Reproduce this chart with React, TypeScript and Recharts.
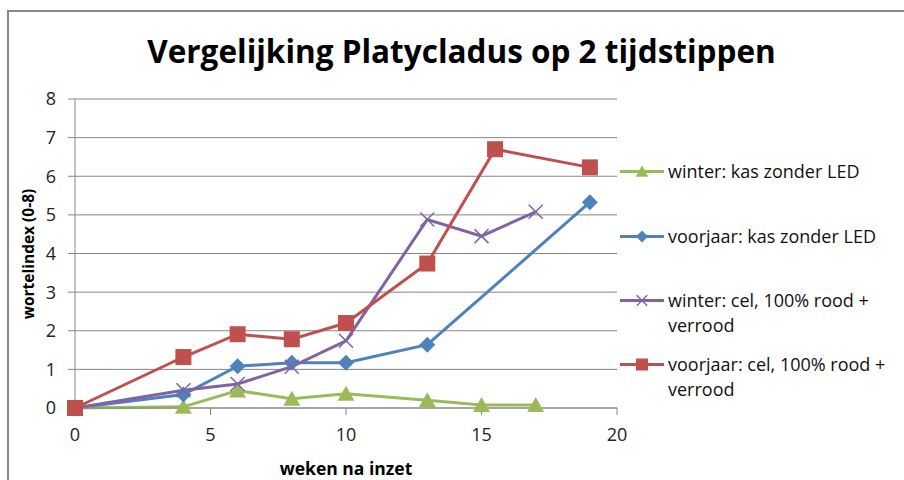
import React from 'react';
import { LineChart, Line, XAxis, YAxis, CartesianGrid } from 'recharts';

const title = 'Vergelijking Platycladus op 2 tijdstippen';
const xLabel = 'weken na inzet';
const yLabel = 'wortelindex (0-8)';
const xTicks = [0, 5, 10, 15, 20];
const yTicks = [0, 1, 2, 3, 4, 5, 6, 7, 8];

const winterKasX = [0, 4, 6, 8, 10, 13, 15, 17];
const winterKasY = [0, 0.03, 0.45, 0.24, 0.37, 0.2, 0.08, 0.08];
const voorjaarKasX = [0, 4, 6, 8, 10, 13, 19];
const voorjaarKasY = [0, 0.35, 1.08, 1.17, 1.17, 1.64, 5.33];
const winterCelX = [0, 4, 6, 8, 10, 13, 15, 17];
const winterCelY = [0, 0.46, 0.62, 1.07, 1.74, 4.88, 4.45, 5.08];
const voorjaarCelX = [0, 4, 6, 8, 10, 13, 15.5, 19];
const voorjaarCelY = [0, 1.32, 1.91, 1.78, 2.2, 3.74, 6.7, 6.23];

const toData = (xs: number[], ys: number[]) => xs.map((x, i) => ({ x, y: ys[i] }));

const GREEN = '#9BBB59';
const BLUE = '#4F81BD';
const PURPLE = '#8064A2';
const RED = '#C0504D';

const FONT = '"Open Sans", "Noto Sans", sans-serif';

type Shape = 'triangle' | 'diamond' | 'x' | 'square';

const marker = (shape: Shape, color: string, cx: number, cy: number, s = 1, key?: any) => {
  if (shape === 'triangle') {
    return <polygon key={key} points={`${cx},${cy - 8 * s} ${cx - 8.5 * s},${cy + 7 * s} ${cx + 8.5 * s},${cy + 7 * s}`} fill={color} />;
  }
  if (shape === 'diamond') {
    return <polygon key={key} points={`${cx},${cy - 8 * s} ${cx + 8 * s},${cy} ${cx},${cy + 8 * s} ${cx - 8 * s},${cy}`} fill={color} />;
  }
  if (shape === 'square') {
    return <rect key={key} x={cx - 8 * s} y={cy - 8 * s} width={16 * s} height={16 * s} fill={color} />;
  }
  return (
    <g key={key} stroke={color} strokeWidth={1.5}>
      <line x1={cx - 7 * s} y1={cy - 7 * s} x2={cx + 7 * s} y2={cy + 7 * s} />
      <line x1={cx - 7 * s} y1={cy + 7 * s} x2={cx + 7 * s} y2={cy - 7 * s} />
    </g>
  );
};

const series = [
  { name: 'winter: kas zonder LED', data: toData(winterKasX, winterKasY), color: GREEN, shape: 'triangle' as Shape, top: 159 },
  { name: 'voorjaar: kas zonder LED', data: toData(voorjaarKasX, voorjaarKasY), color: BLUE, shape: 'diamond' as Shape, top: 224 },
  { name: 'winter: cel, 100% rood +\nverrood', data: toData(winterCelX, winterCelY), color: PURPLE, shape: 'x' as Shape, top: 288 },
  { name: 'voorjaar: cel, 100% rood +\nverrood', data: toData(voorjaarCelX, voorjaarCelY), color: RED, shape: 'square' as Shape, top: 352 },
];

export default function App() {
  return (
    <div style={{ position: 'absolute', left: 0, top: 0, width: 904, height: 480, background: '#fff', overflow: 'hidden', fontFamily: FONT }}>
      <div style={{ position: 'absolute', left: 7, top: 10, width: 920, height: 500, borderTop: '2px solid #888', borderLeft: '2px solid #888', boxSizing: 'border-box' }} />
      <div style={{ position: 'absolute', left: 0, width: 904, top: 29, lineHeight: '43px', textAlign: 'center', fontSize: 31.5, fontWeight: 700, color: '#000', paddingLeft: 19, boxSizing: 'border-box', whiteSpace: 'nowrap' }}>
        {title}
      </div>
      <div style={{ position: 'absolute', left: 0, top: 0 }}>
        <LineChart width={904} height={480} margin={{ top: 99, right: 287, left: 0, bottom: 42 }}>
          <CartesianGrid vertical={false} stroke="#868686" strokeWidth={1} />
          <XAxis
            type="number"
            dataKey="x"
            domain={[0, 20]}
            ticks={xTicks}
            allowDuplicatedCategory={false}
            height={30}
            tickSize={7}
            tickMargin={13}
            stroke="#868686"
            tick={{ fill: '#222', fontSize: 18, fontFamily: FONT }}
            label={(p: any) => (
              <text x={346} y={468} textAnchor="middle" dominantBaseline="central" fontSize={17.5} fontWeight={700} fontFamily={FONT} fill="#000">
                {xLabel}
              </text>
            )}
          />
          <YAxis
            type="number"
            domain={[0, 8]}
            ticks={yTicks}
            width={75}
            tickSize={7}
            tickMargin={12}
            stroke="#868686"
            tick={{ fill: '#222', fontSize: 18, fontFamily: FONT }}
            label={(p: any) => (
              <text x={28} y={254} transform="rotate(-90 28 254)" textAnchor="middle" dominantBaseline="central" fontSize={15.5} fontWeight={700} fontFamily={FONT} fill="#000">
                {yLabel}
              </text>
            )}
          />
          {series.map((s) => (
            <Line
              key={s.name}
              data={s.data}
              dataKey="y"
              type="linear"
              stroke={s.color}
              strokeWidth={3}
              isAnimationActive={false}
              dot={(p: any) => marker(s.shape, s.color, p.cx, p.cy, 1, `${s.name}-${p.index}`)}
              activeDot={false}
            />
          ))}
        </LineChart>
      </div>
      {series.map((s) => (
        <div key={s.name} style={{ position: 'absolute', left: 620, top: s.top, display: 'flex', alignItems: 'flex-start' }}>
          <svg width={46} height={25} style={{ flex: 'none' }}>
            <line x1={0} y1={12.5} x2={44} y2={12.5} stroke={s.color} strokeWidth={3} />
            {marker(s.shape, s.color, 22, 12.5, 0.75)}
          </svg>
          <div style={{ fontSize: 18, lineHeight: '25px', color: '#111', whiteSpace: 'pre', marginLeft: 2 }}>{s.name}</div>
        </div>
      ))}
    </div>
  );
}
